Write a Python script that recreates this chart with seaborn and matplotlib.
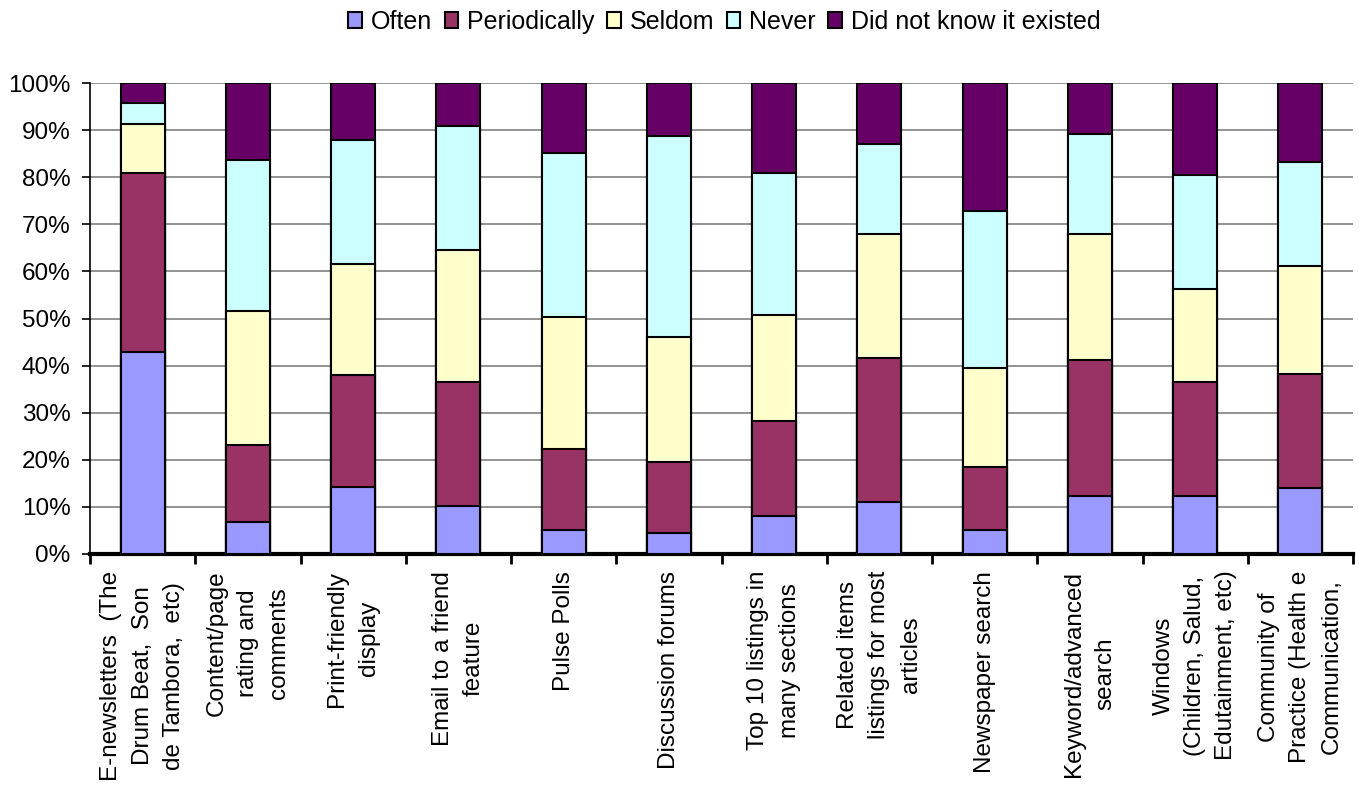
import matplotlib
matplotlib.use("Agg")
import matplotlib.pyplot as plt
import seaborn as sns
import pandas as pd
from matplotlib.patches import Patch
from matplotlib.ticker import FixedLocator

# Website feature usage survey (% of respondents)
features = [
    "E-newsletters  (The\nDrum Beat,  Son\nde Tambora,  etc)",
    "Content/page\nrating and\ncomments",
    "Print-friendly\ndisplay",
    "Email to a friend\nfeature",
    "Pulse Polls",
    "Discussion forums",
    "Top 10 listings in\nmany sections",
    "Related items\nlistings for most\narticles",
    "Newspaper search",
    "Keyword/advanced\nsearch",
    "Windows\n(Children, Salud,\nEdutainment, etc)",
    "Community of\nPractice (Health e\nCommunication,",
]
often = [42.8, 6.8, 14.3, 10.2, 5.1, 4.5, 8.1, 11.0, 5.1, 12.3, 12.3, 14.0]
periodically = [38.0, 16.4, 23.6, 26.3, 17.2, 15.0, 20.1, 30.6, 13.4, 28.9, 24.2, 24.2]
seldom = [10.4, 28.4, 23.7, 28.0, 28.0, 26.6, 22.5, 26.3, 21.0, 26.7, 19.8, 23.0]
never = [4.6, 32.0, 26.2, 26.4, 34.8, 42.6, 30.2, 19.1, 33.3, 21.3, 24.2, 22.0]
did_not_know = [4.2, 16.4, 12.2, 9.1, 14.9, 11.3, 19.1, 13.0, 27.2, 10.8, 19.5, 16.8]

levels = ["Often", "Periodically", "Seldom", "Never", "Did not know it existed"]
palette = {
    "Often": "#9999FF",
    "Periodically": "#993366",
    "Seldom": "#FFFFCC",
    "Never": "#CCFFFF",
    "Did not know it existed": "#660066",
}

df = pd.DataFrame({
    "feature": features,
    "Often": often,
    "Periodically": periodically,
    "Seldom": seldom,
    "Never": never,
    "Did not know it existed": did_not_know,
})
stacked = df[levels].cumsum(axis=1)

sns.set_theme(style="white")
plt.rcParams["font.family"] = ["Liberation Sans", "DejaVu Sans"]

fig = plt.figure(figsize=(13.59, 7.89), dpi=100)
ax = fig.add_axes([90 / 1359, 1 - 554 / 789, (1353 - 90) / 1359, (554 - 83) / 789])

# Draw cumulative totals from the top segment down so each layer overlays the previous
for level in reversed(levels):
    sns.barplot(
        x=df["feature"], y=stacked[level], color=palette[level], saturation=1,
        width=0.42, edgecolor="black", linewidth=1.5, ax=ax, zorder=3,
    )

ax.set_ylim(0, 100)
ax.set_xlim(-0.5, len(features) - 0.5)
ax.set_yticks(range(0, 101, 10))
ax.set_yticklabels([f"{v}%" for v in range(0, 101, 10)], fontsize=17.5)
ax.set_axisbelow(True)
ax.yaxis.grid(True, color="#808080", linewidth=1.2)
ax.xaxis.grid(False)
ax.set_xlabel("")
ax.set_ylabel("")

for side in ("top", "right"):
    ax.spines[side].set_visible(False)
ax.spines["left"].set_color("black")
ax.spines["left"].set_linewidth(1.2)
ax.spines["bottom"].set_color("black")
ax.spines["bottom"].set_linewidth(3)

ax.tick_params(axis="y", which="major", direction="out", length=6, width=1.2,
               color="black", pad=8, left=True, labelcolor="black")
ax.xaxis.set_minor_locator(FixedLocator([i - 0.5 for i in range(len(features) + 1)]))
ax.tick_params(axis="x", which="minor", direction="out", length=7, width=2,
               color="black", bottom=True)
ax.tick_params(axis="x", which="major", length=0, pad=12)
ax.set_xticks(range(len(features)))
ax.set_xticklabels(features, rotation=90, ha="center", va="top",
                   multialignment="center", linespacing=1.55, fontsize=17.5, color="black")

handles = [Patch(facecolor=palette[l], edgecolor="black", linewidth=1.5, label=l) for l in levels]
fig.legend(handles=handles, loc="center", bbox_to_anchor=(0.533, 0.972), ncol=5,
           frameon=False, fontsize=18, handlelength=0.55, handleheight=0.6,
           handletextpad=0.35, columnspacing=0.5, labelcolor="black")

fig.savefig("out.png", dpi=100)
